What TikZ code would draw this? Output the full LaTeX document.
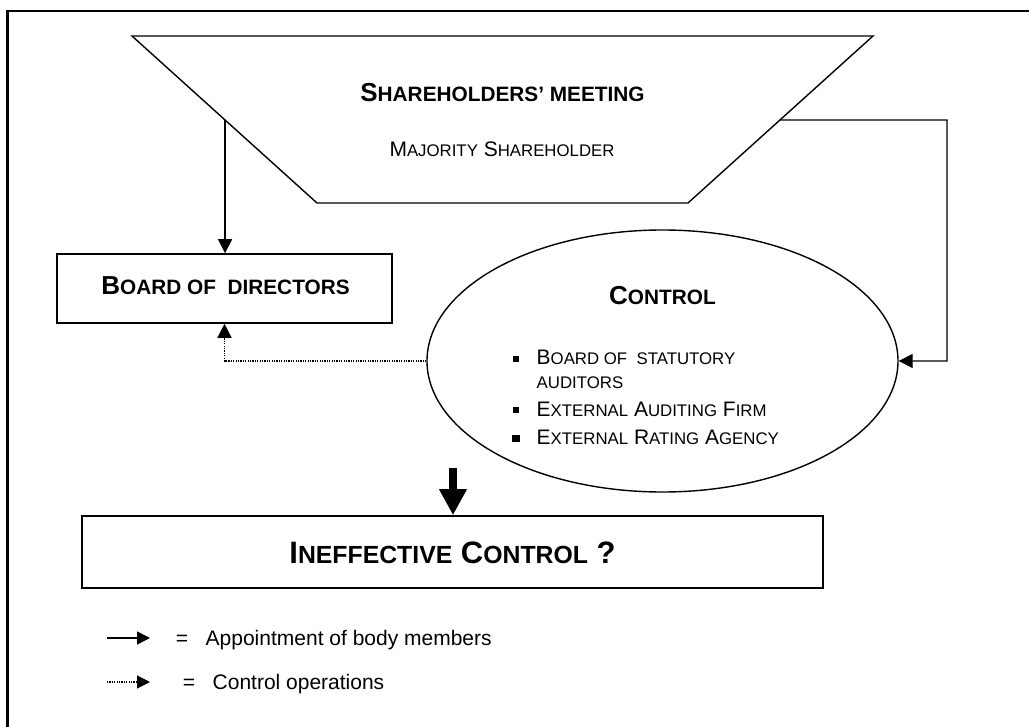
\documentclass[tikz,border=0pt]{standalone}
\usepackage{fontspec}
\setmainfont{Liberation Sans}
\usetikzlibrary{arrows.meta,shapes.geometric,calc}
\newcommand{\smc}[1]{\scalebox{0.8}{#1}}
\begin{document}
\begin{tikzpicture}[x=1pt,y=-1pt,line width=1.4pt,
  lbl/.style={inner sep=0pt,anchor=base},
  lblw/.style={inner sep=0pt,anchor=base west},
  boxnode/.style={draw,line width=1.6pt,inner sep=0pt},
  conn/.style={line width=1.4pt,-{Triangle[length=14pt 0,width=14pt 0]}},
  ctrlconn/.style={conn,dash pattern=on 1.2pt off 1.2pt},
  bigarrow/.style={line width=8pt,-{Triangle[length=26pt 0,width=26pt 0]}},
  bulletsq/.style={fill=black,inner sep=0pt,minimum size=6pt},
  bigfont/.style={font=\fontsize{26}{30}\selectfont\bfseries},
  midfont/.style={font=\fontsize{21}{25}\selectfont}]
\useasboundingbox (0,0) rectangle (1029,727);
% frame
\draw[line width=2.8pt] (7.5,727) -- (7.5,11) -- (1029,11);
% shareholders' meeting (inverted trapezoid)
\coordinate (tl) at (132,36);
\coordinate (tr) at (873,36);
\coordinate (br) at (688,203);
\coordinate (bl) at (317,203);
\draw (tl) -- (tr) -- (br) -- (bl) -- cycle;
\coordinate (smL) at ($(tl)!0.503!(bl)$);
\coordinate (smR) at ($(tr)!0.503!(br)$);
\node[lbl,bigfont] (shm) at (502.5,101.7) {S\smc{HAREHOLDERS’ MEETING}};
\node[lbl,midfont] (maj) at (502,156.7) {M\smc{AJORITY} S\smc{HAREHOLDER}};
% board of directors
\node[boxnode,minimum width=335pt,minimum height=69pt] (board) at (224.5,288.5) {};
\node[lbl,bigfont] (boardtxt) at (225.5,295) {B\smc{OARD OF\ \ DIRECTORS}};
% control ellipse
\node[draw,ellipse,line width=1.4pt,minimum width=471pt,minimum height=262pt,inner sep=0pt] (ctrl) at (662.5,361) {};
\node[lbl,bigfont] (ctrltxt) at (662.5,304.6) {C\smc{ONTROL}};
\node[bulletsq] (b1) at (516,359) {};
\node[bulletsq] (b2) at (516,410.5) {};
\node[bulletsq,minimum size=7.5pt] (b3) at (516,438.5) {};
\node[lblw,midfont] (t1) at (536,365) {B\smc{OARD OF\ \ STATUTORY}};
\node[lblw,midfont] (t1b) at (536,389) {\smc{AUDITORS}};
\node[lblw,midfont] (t2) at (536,416.5) {E\smc{XTERNAL} A\smc{UDITING} F\smc{IRM}};
\node[lblw,midfont] (t3) at (536,444.5) {E\smc{XTERNAL} R\smc{ATING} A\smc{GENCY}};
% ineffective control
\node[boxnode,minimum width=741pt,minimum height=72pt] (ineff) at (452.5,552) {};
\node[lbl,font=\fontsize{31}{36}\selectfont\bfseries] (inefftxt) at (452.5,563) {I\smc{NEFFECTIVE} C\smc{ONTROL} ?};
% connectors
\draw[conn] (smL) -- (smL |- board.north);
\coordinate (rc) at (947,120);
\draw[conn] (smR) -- (rc) |- (ctrl.east);
\draw[ctrlconn] (ctrl.west) -| (board.south);
\coordinate (bigtop) at (453,468);
\draw[bigarrow] (bigtop) -- (bigtop |- ineff.north);
% legend
\coordinate (la1) at (107,638);
\coordinate (la2) at (150,638);
\coordinate (lb1) at (107,682);
\coordinate (lb2) at (150,682);
\draw[conn,-{Triangle[length=13pt 0,width=13pt 0]}] (la1) -- (la2);
\draw[ctrlconn,line width=1.1pt,-{Triangle[length=13pt 0,width=13pt 0]}] (lb1) -- (lb2);
\node[lbl,midfont] (eq1) at (182,645.5) {=};
\node[lblw,midfont] (leg1) at (205,645.5) {Appointment of body members};
\node[lbl,midfont] (eq2) at (189,689.5) {=};
\node[lblw,midfont] (leg2) at (212,689.5) {Control operations};
\end{tikzpicture}
\end{document}
